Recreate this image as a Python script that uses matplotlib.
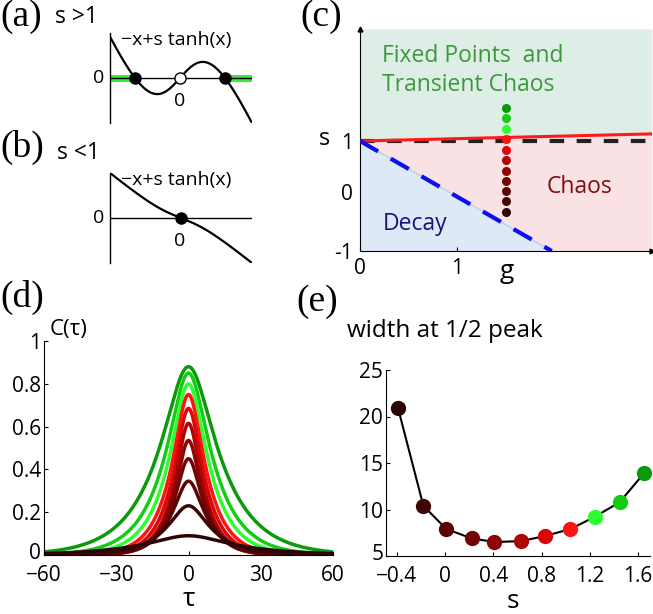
import numpy as np
import matplotlib
matplotlib.use("Agg")
import matplotlib.pyplot as plt
import matplotlib.transforms as mtrans

plt.rcParams['font.family'] = ['Open Sans', 'DejaVu Sans']
plt.rcParams['axes.unicode_minus'] = True

W, H = 653, 614

# ---- data ----
s_above = 1.55      # panel (a), s > 1
s_below = 0.5       # panel (b), s < 1
s_vals = [-0.39, -0.18, 0.01, 0.22, 0.41, 0.63, 0.83, 1.04, 1.24, 1.45, 1.65]
widths = [20.9, 10.4, 7.9, 6.9, 6.5, 6.6, 7.15, 7.9, 9.2, 10.8, 13.9]
peaks = [0.09, 0.23, 0.345, 0.45, 0.535, 0.615, 0.685, 0.75, 0.80, 0.85, 0.88]
colors = ['#2b0505', '#3d0606', '#5a0404', '#720606', '#8e0404', '#b00505',
          '#dc0606', '#ff1414', '#2cff2c', '#14cc14', '#0b9a0b']
g_dots = 1.5
chaos_edge_g = [0, 3]
chaos_edge_s = [1.0, 1.14]
decay_edge_g = [0, 1.97]
decay_edge_s = [1.0, -1.16]
tau_ticks = [-60, -30, 0, 30, 60]
c_ticks = [0, 0.2, 0.4, 0.6, 0.8, 1]
e_xticks = [-0.4, 0, 0.4, 0.8, 1.2, 1.6]
e_yticks = [5, 10, 15, 20, 25]

fig = plt.figure(figsize=(W / 100, H / 100), dpi=100)


def add_ax(left, top, right, bottom):
    return fig.add_axes([left / W, 1 - bottom / H, (right - left) / W, (bottom - top) / H])


def ftext(x, y, s, **kw):
    fig.text(x / W, 1 - y / H, s, **kw)


def plain(ax):
    for sp in ['top', 'right']:
        ax.spines[sp].set_visible(False)


def lift_first_ylabel(ax, px):
    # nudge the lowest y tick label up so it clears the x tick labels
    lbl = ax.get_yticklabels()[0]
    lbl.set_transform(lbl.get_transform() +
                      mtrans.ScaledTranslation(0, px / 100, fig.dpi_scale_trans))


# ---- panels (a) and (b): -x + s tanh(x) ----
def flow_panel(top, bottom, s, x_left, x_right, dots):
    ax = add_ax(110, top, 252, bottom)
    x = np.linspace(x_left, x_right, 300)
    f = -x + s * np.tanh(x)
    lim = max(abs(f[0]), abs(f[-1]))
    if s > 1:
        x0 = dots[-1]
        ax.plot([x_left, -x0], [0, 0], color='#33ee33', lw=5, solid_capstyle='butt', zorder=1)
        ax.plot([x0, x_right], [0, 0], color='#33ee33', lw=5, solid_capstyle='butt', zorder=1)
    ax.plot([x_left, x_right], [0, 0], color='black', lw=1, zorder=2)
    ax.plot(x, f, color='black', lw=1.6, zorder=3)
    for d in dots:
        fc = 'white' if d == 0 and s > 1 else 'black'
        ax.plot([d], [0], 'o', ms=8, mfc=fc, mec='black', mew=1, zorder=4)
    ax.set_xlim(x_left, x_right)
    ax.set_ylim(-lim, lim)
    ax.set_xticks([])
    ax.set_yticks([])
    for sp in ['top', 'right', 'bottom']:
        ax.spines[sp].set_visible(False)
    ax.spines['left'].set_linewidth(1)
    return ax


# zero crossing for s>1
xs = np.linspace(0.01, 5, 5000)
x0 = xs[np.argmin(np.abs(-xs + s_above * np.tanh(xs)))]
scale = 45 / x0
flow_panel(33, 123, s_above, -70 / scale, 72 / scale, [-x0, 0, x0])
flow_panel(173, 263, s_below, -2.5, 2.5, [0])

lab = dict(family='Liberation Serif', fontsize=27, va='center')
ftext(0, 17, '(a)', **lab)
ftext(55, 17, 's >1', fontsize=16.5, va='center')
ftext(121, 40, '−x+s tanh(x)', fontsize=14, va='center')
ftext(104, 78, '0', fontsize=14, va='center', ha='right')
ftext(180, 101, '0', fontsize=14, va='center', ha='center')

ftext(0, 147, '(b)', **lab)
ftext(57, 153, 's <1', fontsize=16.5, va='center')
ftext(121, 180, '−x+s tanh(x)', fontsize=14, va='center')
ftext(104, 218, '0', fontsize=14, va='center', ha='right')
ftext(180, 241, '0', fontsize=14, va='center', ha='center')

# ---- panel (c): phase diagram ----
axc = add_ax(360, 29, 652, 251)
ylo, yhi = -1.16, 3.2
g = np.array(chaos_edge_g, dtype=float)
axc.fill_between(g, chaos_edge_s, yhi, color='#deede6', lw=0, zorder=0)
axc.fill_between(g, ylo, chaos_edge_s, color='#fae1e3', lw=0, zorder=0)
axc.fill_between(decay_edge_g, ylo, decay_edge_s, color='#dde9f6', lw=0, zorder=1)
axc.plot(decay_edge_g, decay_edge_s, color='#b8c8ee', lw=0.8, zorder=1)
axc.plot([0, 3], [1, 1], color='#222222', lw=3, dashes=(3.5, 3), zorder=2)
axc.plot(chaos_edge_g, chaos_edge_s, color='#ff1a1a', lw=2.2, zorder=3)
axc.plot(decay_edge_g, decay_edge_s, color='#0a10ee', lw=3, dashes=(5, 3.5), zorder=3)
for sv, c in zip(s_vals, colors):
    axc.plot([g_dots], [sv], 'o', ms=6.5, color=c, mec='none', zorder=4)
axc.set_xlim(0, 3)
axc.set_ylim(ylo, yhi)
axc.set_xticks([0, 1])
axc.set_yticks([ylo, 0, 1])
axc.set_yticklabels(['-1', '0', '1'])
axc.tick_params(direction='in', length=3, labelsize=15, pad=5)
axc.tick_params(axis='y', length=0)
plain(axc)
axc.plot([0], [yhi], '^', color='black', ms=3.5, clip_on=False)
axc.plot([3], [ylo], '>', color='black', ms=3.5, clip_on=False)
ftext(300, 17, '(c)', **lab)
ftext(325, 139, 's', fontsize=17, va='center', ha='center')
ftext(507, 272, 'g', fontsize=19, va='center', ha='center')
ftext(382, 56, 'Fixed Points  and', fontsize=16.5, color='#3a9a3a', va='center')
ftext(382, 85, 'Transient Chaos', fontsize=16.5, color='#3a9a3a', va='center')
ftext(547, 187, 'Chaos', fontsize=16.5, color='#7a1010', va='center')
ftext(383, 224, 'Decay', fontsize=16.5, color='#14147a', va='center')

# ---- panel (d): correlation functions ----
axd = add_ax(44, 341, 333, 555)
tau = np.linspace(-60, 60, 801)
for pk, wd, c in reversed(list(zip(peaks, widths, colors))):
    a = wd / np.arccosh(4.0)
    axd.plot(tau, pk / np.sqrt(np.cosh(tau / a)), color=c, lw=2.5)
axd.set_xlim(-60, 60)
axd.set_ylim(0, 1)
axd.set_xticks(tau_ticks)
axd.set_yticks(c_ticks)
axd.set_yticklabels(['0', '0.2', '0.4', '0.6', '0.8', '1'])
axd.tick_params(direction='in', length=3, labelsize=15)
axd.tick_params(axis='y', pad=2)
axd.tick_params(axis='x', pad=7)
plain(axd)
lift_first_ylabel(axd, 4)
ftext(0, 297, '(d)', **lab)
ftext(50, 330, 'C(τ)', fontsize=16, va='center')
ftext(189, 600, 'τ', fontsize=19, va='center', ha='center')

# ---- panel (e): width at half peak ----
axe = add_ax(386, 370, 650, 556)
axe.plot(s_vals, widths, color='black', lw=1.5, zorder=2)
for sv, wd, c in zip(s_vals, widths, colors):
    axe.plot([sv], [wd], 'o', ms=11, color=c, mec='none', zorder=3, clip_on=False)
axe.set_xlim(-0.49, 1.70)
axe.set_ylim(5, 25)
axe.set_xticks(e_xticks)
axe.set_xticklabels(['−0.4', '0', '0.4', '0.8', '1.2', '1.6'])
axe.set_yticks(e_yticks)
axe.tick_params(direction='in', length=3, labelsize=15)
axe.tick_params(axis='y', pad=2)
axe.tick_params(axis='x', pad=7)
plain(axe)
lift_first_ylabel(axe, 4)
ftext(296, 302, '(e)', **lab)
ftext(347, 331, 'width at 1/2 peak', fontsize=17.5, va='center')
ftext(513, 602, 's', fontsize=19, va='center', ha='center')

fig.savefig('out.png', dpi=100)
